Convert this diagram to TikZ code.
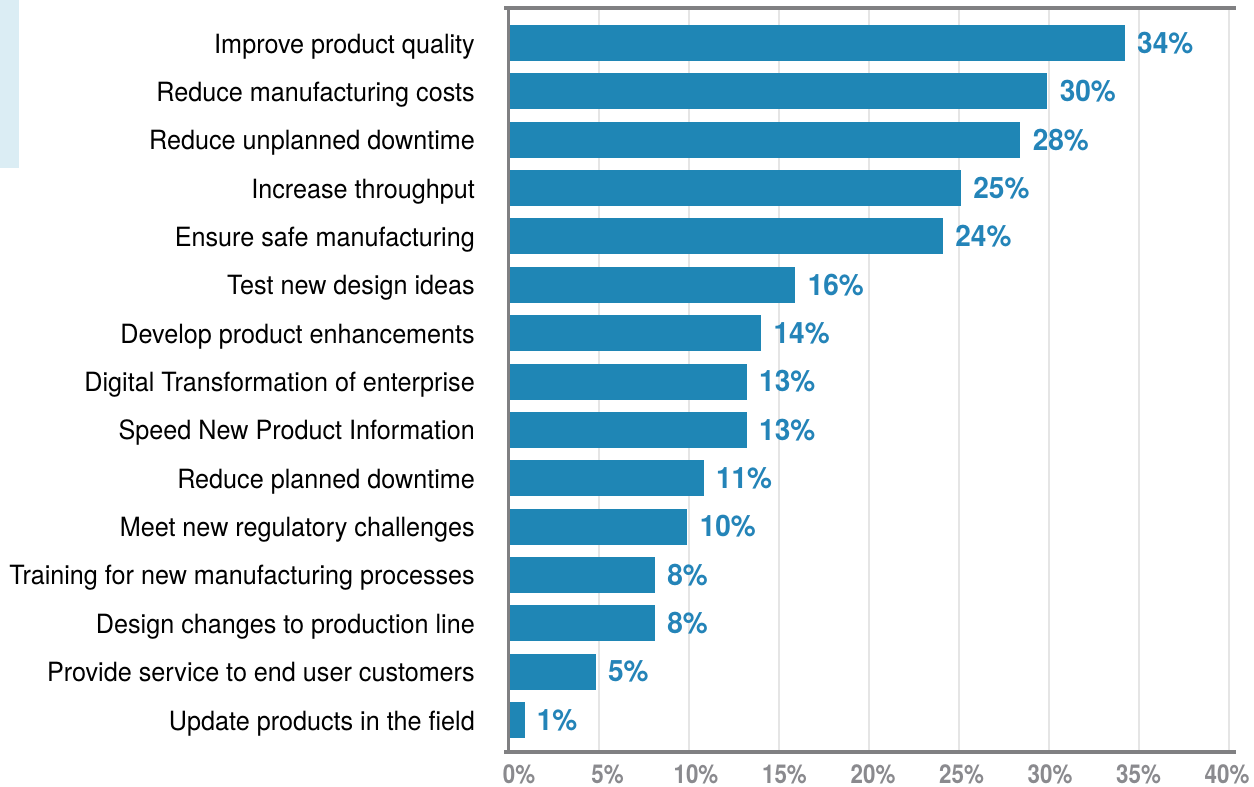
\documentclass[tikz,border=0pt]{standalone}
\usepackage{fontspec}
\setmainfont{TeX Gyre Heros}[FakeStretch=0.95]
\newfontfamily\tickfont{TeX Gyre Heros}[FakeStretch=0.86]
\usetikzlibrary{positioning}
\definecolor{barblue}{RGB}{31,134,181}
\definecolor{valblue}{RGB}{36,132,184}
\definecolor{axisgray}{RGB}{128,128,130}
\definecolor{gridgray}{RGB}{229,229,229}
\definecolor{tickgray}{RGB}{138,138,142}
\definecolor{sideblue}{RGB}{219,237,244}
\tikzset{
      blue bar/.style={
		fill=barblue,
		inner sep=0pt,
		minimum width={#1},
		minimum height={36pt},
		anchor=west,
	  },
  		cat label/.style={
    	anchor=base east, inner sep=0pt,
    	font=\fontsize{26.5}{30}\selectfont,
      },
  		val label/.style={
    	inner sep=0pt, text=valblue,
    	font=\fontsize{29.5}{32}\selectfont\bfseries,
      },
  		tick label/.style={
    	anchor=base, inner sep=0pt, text=tickgray,
    	font=\fontsize{26}{30}\tickfont\bfseries,
      },
  		axis line/.style={draw=axisgray, line width=4pt},
  		grid line/.style={draw=gridgray, line width=2pt},
  	}
\begin{document}
\begin{tikzpicture}[x=1pt, y=-1pt, node distance=12pt]
    \useasboundingbox (0,0) rectangle (1254,787);
    \fill[sideblue] (0,0) rectangle (18.5,168); % side tab
    % grid
    \foreach \k in {1,...,8}
      \draw[grid line] (509+90*\k,10) -- (509+90*\k,750);
    % bars and labels
    \foreach \v/\p/\t [count=\i] in {34.2/34/Improve product quality,
        29.9/30/Reduce manufacturing costs,
        28.4/28/Reduce unplanned downtime,
        25.1/25/Increase throughput,
        24.1/24/Ensure safe manufacturing,
        15.9/16/Test new design ideas,
        14.0/14/Develop product enhancements,
        13.2/13/Digital Transformation of enterprise,
        13.2/13/Speed New Product Information,
        10.8/11/Reduce planned downtime,
        9.9/10/Meet new regulatory challenges,
        8.1/8/Training for new manufacturing processes,
        8.1/8/Design changes to production line,
        4.8/5/Provide service to end user customers,
        0.85/1/Update products in the field} {
      \pgfmathsetmacro\rowy{43+48.36*(\i-1)}
      \pgfmathsetmacro\barw{18*\v-1}
      \node [blue bar=\barw pt] (b\i) at (510,\rowy) {};
      \node [val label, right=of b\i] (v\i) {\p\%};
      \node [cat label] (c\i) at (475,\rowy+10) {\t};
    }
    % axes
    \draw[axis line] (504,8) -- (1236,8);
    \draw[axis line] (504,752) -- (1236,752);
    \draw[axis line, line width=3.5pt] (508.5,6) -- (508.5,754);
    % ticks
    \foreach \k in {0,...,8}
      \node [tick label] (t\k) at (519+88.5*\k,783.5) {\the\numexpr 5*\k\relax\%};
\end{tikzpicture}
\end{document}
